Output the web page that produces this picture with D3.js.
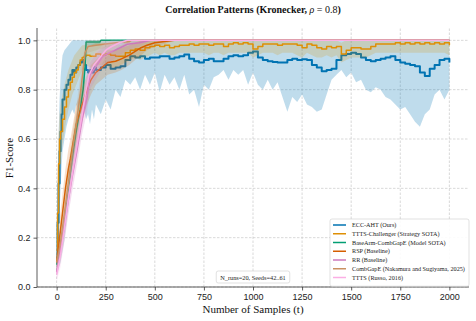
<!DOCTYPE html>
<html lang="en">
<head>
<meta charset="UTF-8">
<title>Correlation Patterns (Kronecker)</title>
<style>
  body { margin: 0; background: #fff; }
  svg { font-family: "Liberation Serif", "DejaVu Serif", serif; }
  .grid line { stroke: #c8c8c8; stroke-width: 0.7; stroke-dasharray: 2.5,1.5; }
  .axis path, .axis line { stroke: #333; stroke-width: 0.8; }
  .axis text { font-size: 9px; fill: #222; }
</style>
</head>
<body>
<script src="https://cdn.jsdelivr.net/npm/d3@7/dist/d3.min.js"></script>
<script>
// rows: [t, mean, lower, upper]
const eccAht = [
  [0,.12,.05,.2],[5,.26,.1,.42],[10,.42,.2,.62],[15,.55,.3,.76],[20,.63,.4,.85],[25,.7,.48,.9],
  [30,.76,.55,.94],[40,.8,.6,.96],[50,.82,.65,.97],[60,.84,.68,.98],[70,.86,.7,.99],[80,.88,.72,1],
  [90,.87,.7,1],[100,.89,.74,1],[110,.9,.72,1],[120,.91,.75,1],[130,.92,.7,1],[140,.9,.72,1],
  [150,.88,.68,1],[160,.87,.7,1],[170,.88,.66,1],[180,.87,.72,1],[190,.89,.68,1],[200,.88,.74,1],
  [225,.89,.7,1],[250,.9,.76,1],[275,.885,.72,1],[300,.89,.8,1],[325,.895,.77,1],[350,.92,.84,1],
  [375,.935,.82,1],[400,.93,.85,1],[425,.935,.8,1],[450,.925,.86,1],[475,.93,.82,1],[500,.93,.87,1],
  [525,.935,.79,1],[550,.935,.86,1],[575,.925,.82,1],[600,.93,.85,1],[625,.935,.8,1],[650,.943,.86,1],
  [675,.925,.78,1],[700,.915,.8,1],[725,.91,.73,1],[750,.92,.82,1],[775,.925,.8,1],[800,.915,.85,1],
  [825,.915,.86,1],[850,.925,.88,1],[875,.935,.84,1],[900,.94,.88,1],[925,.935,.86,1],[950,.94,.88,1],
  [975,.95,.82,1],[1000,.955,.87,1],[1025,.93,.82,1],[1050,.92,.8,1],[1075,.915,.84,1],[1100,.912,.8,1],
  [1125,.91,.83,1],[1150,.91,.77,1],[1175,.92,.71,1],[1200,.925,.77,1],[1225,.92,.75,1],[1250,.923,.78,1],
  [1275,.92,.74,1],[1300,.9,.73,1],[1325,.89,.71,1],[1350,.875,.72,1],[1375,.88,.78,1],[1400,.885,.84,1],
  [1425,.92,.86,1],[1450,.94,.88,1],[1475,.945,.85,1],[1500,.95,.87,1],[1525,.945,.83,1],[1550,.93,.84,1],
  [1575,.92,.8,1],[1600,.915,.79,1],[1625,.92,.81,1],[1650,.925,.8,1],[1675,.93,.77,1],[1700,.935,.76,1],
  [1725,.92,.74,1],[1750,.91,.72,1],[1775,.905,.73,1],[1800,.9,.7,1],[1825,.895,.67,1],[1850,.87,.65,1],
  [1875,.855,.7,1],[1900,.885,.72,1],[1925,.9,.78,1],[1950,.92,.8,1],[1975,.925,.76,1],[2000,.91,.8,1]
];
const tttsChallenger = [
  [0,.15,.08,.22],[5,.3,.18,.42],[10,.5,.35,.62],[15,.6,.48,.7],[20,.63,.52,.74],[30,.68,.58,.78],
  [40,.73,.63,.82],[50,.77,.68,.85],[60,.8,.72,.88],[70,.83,.75,.9],[80,.85,.78,.92],[90,.87,.8,.94],
  [100,.88,.82,.95],[110,.9,.84,.96],[120,.92,.86,.97],[130,.93,.88,.98],[140,.935,.89,.98],[150,.94,.9,.985],
  [170,.935,.89,.98],[200,.945,.9,.99],[225,.94,.9,.99],[250,.945,.9,.99],[275,.94,.89,.99],[300,.935,.89,.985],
  [325,.935,.9,.98],[350,.95,.91,.99],[375,.96,.92,1],[400,.965,.93,1],[425,.96,.92,1],[450,.97,.93,1],
  [475,.975,.94,1],[500,.98,.95,1],[525,.975,.94,1],[550,.98,.95,1],[575,.97,.94,1],[600,.975,.94,1],
  [625,.98,.95,1],[650,.98,.95,1],[675,.985,.95,1],[700,.98,.95,1],[725,.985,.95,1],[750,.985,.95,1],
  [775,.98,.94,1],[800,.985,.95,1],[825,.985,.95,1],[850,.975,.94,1],[875,.985,.95,1],[900,.99,.95,1],
  [925,.985,.95,1],[950,.99,.95,1],[975,.985,.95,1],[1000,.965,.93,1],[1025,.975,.94,1],[1050,.985,.95,1],
  [1075,.985,.95,1],[1100,.985,.95,1],[1125,.98,.94,1],[1150,.985,.95,1],[1175,.985,.95,1],[1200,.985,.95,1],
  [1225,.98,.94,1],[1250,.97,.93,1],[1275,.985,.95,1],[1300,.98,.94,1],[1325,.97,.93,1],[1350,.965,.93,1],
  [1375,.975,.94,1],[1400,.97,.93,1],[1425,.975,.94,1],[1450,.945,.91,.99],[1475,.96,.92,1],[1500,.97,.93,1],
  [1525,.97,.93,1],[1550,.965,.93,1],[1575,.965,.93,1],[1600,.975,.94,1],[1625,.985,.95,1],[1650,.985,.95,1],
  [1675,.985,.95,1],[1700,.985,.95,1],[1725,.99,.95,1],[1750,.985,.95,1],[1775,.99,.95,1],[1800,.985,.95,1],
  [1825,.99,.95,1],[1850,.985,.95,1],[1875,.99,.95,1],[1900,.985,.95,1],[1925,.99,.95,1],[1950,.985,.95,1],
  [1975,.99,.95,1],[2000,.98,.94,1]
];
const baseArmCombGapE = [
  [0,.09,.05,.14],[20,.15,.1,.2],[40,.25,.19,.31],[60,.4,.33,.47],[80,.52,.45,.59],[100,.63,.56,.7],
  [120,.72,.66,.79],[135,.8,.74,.87],[145,.9,.85,.95],[150,.993,.98,1],[220,.993,.98,1],[225,1,1,1],[2000,1,1,1]
];
const rsp = [
  [0,.1,.05,.15],[15,.2,.13,.27],[30,.3,.22,.38],[45,.4,.32,.48],[60,.48,.4,.56],[70,.52,.44,.6],
  [100,.66,.58,.74],[130,.74,.67,.81],[155,.8,.74,.86],[175,.84,.78,.9],[200,.87,.82,.92],[230,.89,.84,.94],
  [260,.91,.86,.96],[300,.915,.87,.96],[330,.925,.88,.97],[370,.94,.9,.98],[400,.955,.92,.99],[430,.97,.94,1],
  [460,.98,.96,1],[500,.99,.975,1],[550,.995,.985,1],[600,1,1,1],[2000,1,1,1]
];
const rr = [
  [0,.06,.03,.1],[20,.15,.1,.2],[40,.25,.19,.31],[55,.33,.27,.39],[80,.45,.39,.52],[105,.56,.5,.63],
  [130,.68,.62,.74],[155,.77,.71,.83],[170,.86,.8,.91],[205,.9,.85,.95],[235,.935,.89,.97],[270,.95,.91,.98],
  [305,.963,.93,.99],[360,.984,.96,1],[420,.99,.975,1],[480,1,1,1],[2000,1,1,1]
];
const combGapE = [
  [0,.1,.06,.15],[20,.18,.13,.24],[40,.3,.24,.36],[60,.42,.36,.49],[80,.55,.48,.62],[100,.66,.59,.73],
  [120,.78,.72,.85],[135,.88,.83,.93],[145,.95,.91,.99],[160,.975,.95,1],[200,.98,.96,1],[250,.985,.97,1],
  [300,.99,.98,1],[370,.995,.99,1],[380,1,1,1],[2000,1,1,1]
];
const ttts = [
  [0,.05,.02,.09],[20,.13,.08,.18],[40,.24,.18,.3],[60,.36,.3,.42],[80,.46,.4,.53],[105,.58,.52,.65],
  [130,.7,.64,.76],[150,.8,.74,.86],[165,.86,.81,.91],[190,.9,.85,.95],[220,.93,.89,.97],[250,.96,.93,.99],
  [280,.975,.95,1],[320,.99,.98,1],[360,1,1,1],[2000,1,1,1]
];

const seriesNames = [
  "ECC-AHT (Ours)",
  "TTTS-Challenger (Strategy SOTA)",
  "BaseArm-CombGapE (Model SOTA)",
  "RSP (Baseline)",
  "RR (Baseline)",
  "CombGapE (Nakamura and Sugiyama, 2025)",
  "TTTS (Russo, 2016)"
];
const seriesData = [eccAht, tttsChallenger, baseArmCombGapE, rsp, rr, combGapE, ttts];
const seriesColors = ["#0173b2", "#de8f05", "#029e73", "#d55e00", "#cc78bc", "#ca9161", "#fbafe4"];
const xTicks = [0, 250, 500, 750, 1000, 1250, 1500, 1750, 2000];
const yTicks = [0, 0.2, 0.4, 0.6, 0.8, 1.0];

const W = 476, H = 321;
const m = { left: 37, right: 7, top: 28, bottom: 34 };

const svg = d3.select("body").append("svg").attr("width", W).attr("height", H);

const x = d3.scaleLinear().domain([-100, 2100]).range([m.left, W - m.right]);
const y = d3.scaleLinear().domain([0, 1.05]).range([H - m.bottom, m.top]);

// grid
const grid = svg.append("g").attr("class", "grid");
grid.selectAll(".gx").data(xTicks).enter().append("line")
  .attr("x1", d => x(d)).attr("x2", d => x(d)).attr("y1", y(0)).attr("y2", m.top);
grid.selectAll(".gy").data(yTicks).enter().append("line")
  .attr("x1", m.left).attr("x2", W - m.right).attr("y1", d => y(d)).attr("y2", d => y(d));

svg.append("clipPath").attr("id", "plot-clip").append("rect")
  .attr("x", m.left).attr("y", m.top).attr("width", W - m.left - m.right).attr("height", H - m.top - m.bottom);

const plot = svg.append("g").attr("clip-path", "url(#plot-clip)");

seriesData.forEach((rows, i) => {
  // mean curves of the two noisy series are drawn as steps, bands stay linear
  const lineCurve = i < 2 ? d3.curveStepAfter : d3.curveLinear;
  const area = d3.area().curve(d3.curveLinear)
    .x(d => x(d[0])).y0(d => y(d[2])).y1(d => y(d[3]));
  const line = d3.line().curve(lineCurve).x(d => x(d[0])).y(d => y(d[1]));
  plot.append("path").datum(rows).attr("d", area)
    .attr("fill", seriesColors[i]).attr("fill-opacity", i === 0 ? 0.25 : 0.2).attr("stroke", "none");
  plot.append("path").datum(rows).attr("d", line)
    .attr("fill", "none").attr("stroke", seriesColors[i])
    .attr("stroke-width", i === 0 ? 2 : 1.5).attr("stroke-linejoin", "round");
});

// axes
svg.append("g").attr("class", "axis").attr("transform", `translate(0,${y(0)})`)
  .call(d3.axisBottom(x).tickValues(xTicks).tickSize(3.5).tickPadding(3).tickFormat(d3.format("d")))
  .call(g => g.select(".domain").attr("d", `M${m.left},0H${W - m.right}`));
svg.append("g").attr("class", "axis").attr("transform", `translate(${m.left},0)`)
  .call(d3.axisLeft(y).tickValues(yTicks).tickSize(3.5).tickPadding(3).tickFormat(d3.format(".1f")))
  .call(g => g.select(".domain").attr("d", `M0,${y(0)}V${m.top}`));

// title and labels
const title = svg.append("text").attr("x", 253).attr("y", 13).attr("text-anchor", "middle")
  .attr("font-size", 10).attr("font-weight", "bold").attr("fill", "#111");
title.append("tspan").text("Correlation Patterns (Kronecker, ");
title.append("tspan").attr("font-style", "italic").attr("font-weight", "normal").text("ρ");
title.append("tspan").attr("font-weight", "normal").text(" = 0.8");
title.append("tspan").text(")");

svg.append("text").attr("x", 253).attr("y", 313).attr("text-anchor", "middle")
  .attr("font-size", 11).attr("fill", "#111").text("Number of Samples (t)");
svg.append("text").attr("transform", "translate(13,158) rotate(-90)").attr("text-anchor", "middle")
  .attr("font-size", 11).attr("fill", "#111").text("F1-Score");

// run info box
const info = svg.append("g");
const infoText = info.append("text").attr("x", 253).attr("y", 279.5).attr("text-anchor", "middle")
  .attr("font-size", 6.3).attr("fill", "#222").text("N_runs=20, Seeds=42..61");
const ib = infoText.node().getBBox();
info.insert("rect", "text").attr("x", ib.x - 4).attr("y", ib.y - 2.5)
  .attr("width", ib.width + 8).attr("height", ib.height + 5).attr("rx", 2)
  .attr("fill", "#fff").attr("fill-opacity", 0.85).attr("stroke", "#ccc").attr("stroke-width", 0.6);

// legend
const lg = svg.append("g").attr("transform", "translate(330,219)");
const rowH = 8.75;
lg.append("rect").attr("x", 0).attr("y", 0).attr("width", 139).attr("height", 7 * rowH + 6)
  .attr("rx", 2).attr("fill", "#fff").attr("fill-opacity", 0.9).attr("stroke", "#ccc").attr("stroke-width", 0.6);
seriesNames.forEach((name, i) => {
  const cy = 6 + i * rowH;
  lg.append("line").attr("x1", 3).attr("x2", 16).attr("y1", cy).attr("y2", cy)
    .attr("stroke", seriesColors[i]).attr("stroke-width", 1.5);
  lg.append("text").attr("x", 22).attr("y", cy + 2).attr("font-size", 6.2).attr("fill", "#222").text(name);
});
</script>
</body>
</html>
